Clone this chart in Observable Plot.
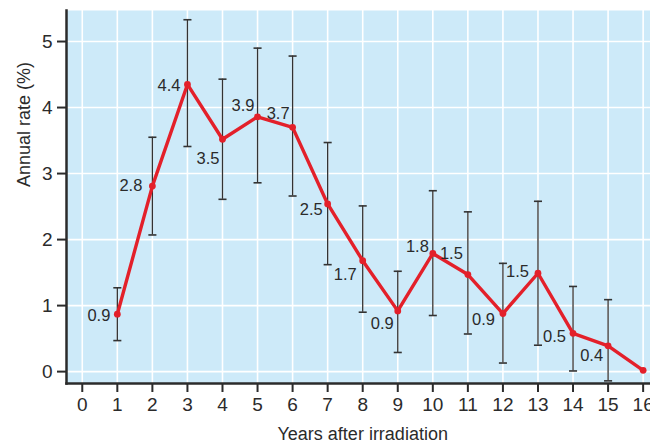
<!DOCTYPE html>
<html>
<head>
<meta charset="utf-8">
<script src="https://cdn.jsdelivr.net/npm/d3@7"></script>
<script src="https://cdn.jsdelivr.net/npm/@observablehq/plot@0.6"></script>
<style>
  html, body { margin: 0; padding: 0; background: #fff; overflow: hidden; }
  #chart { width: 650px; height: 443px; overflow: hidden; }
</style>
</head>
<body>
<div id="chart"></div>
<script>
// Data
const years  = [1, 2, 3, 4, 5, 6, 7, 8, 9, 10, 11, 12, 13, 14, 15, 16];
const rates  = [0.87, 2.81, 4.35, 3.52, 3.86, 3.70, 2.54, 1.68, 0.92, 1.79, 1.47, 0.88, 1.49, 0.58, 0.39, 0.02];
const lower  = [0.47, 2.07, 3.41, 2.61, 2.86, 2.66, 1.62, 0.90, 0.29, 0.85, 0.57, 0.13, 0.40, 0.01, -0.14, null];
const upper  = [1.27, 3.55, 5.33, 4.43, 4.90, 4.78, 3.47, 2.51, 1.52, 2.74, 2.42, 1.64, 2.58, 1.29, 1.09, null];
const labels = ["0.9", "2.8", "4.4", "3.5", "3.9", "3.7", "2.5", "1.7", "0.9", "1.8", "1.5", "0.9", "1.5", "0.5", "0.4", null];
const xTicks = [0, 1, 2, 3, 4, 5, 6, 7, 8, 9, 10, 11, 12, 13, 14, 15, 16];
const yTicks = [0, 1, 2, 3, 4, 5];

// Label layout (pixel offsets of each value label from its point)
const labelDx = [-7, -10, -7, -3, -3, -3, -5, -6, -4, -4, -5, -8, -9, -7, -5, 0];
const labelDy = [2, 0, 1, 19, -11, -14, 6, 14, 13, -7, -21, 6, -2, 3, 10, 0];

const data = years.map((x, i) => ({x, y: rates[i], lo: lower[i], hi: upper[i], label: labels[i], i}));
const bars = data.filter(d => d.lo != null);

const FONT = "'Liberation Sans', Arial, Helvetica, sans-serif";
const ink = "#2b2b2b";
const capHalf = 0.115;

const labelMarks = data.filter(d => d.label != null).map(d =>
  Plot.text([d], {
    x: "x", y: "y", text: "label",
    textAnchor: "end", lineAnchor: "middle",
    dx: labelDx[d.i], dy: labelDy[d.i],
    fill: "#2b2b2b", fontSize: 16.5
  })
);

const chart = Plot.plot({
  width: 650,
  height: 443,
  marginLeft: 66,
  marginRight: 0,
  marginTop: 10,
  marginBottom: 60,
  style: {fontFamily: FONT, background: "#fff", overflow: "hidden"},
  x: {domain: [-0.45, 16.21], label: null},
  y: {domain: [-0.18, 5.47], label: null},
  marks: [
    Plot.frame({fill: "#cdeaf9", stroke: null}),
    Plot.gridX(xTicks, {stroke: "#fff", strokeOpacity: 1, strokeWidth: 1.6}),
    Plot.gridY(yTicks, {stroke: "#fff", strokeOpacity: 1, strokeWidth: 1.6}),
    Plot.axisX(xTicks, {
      tickSize: 9, tickPadding: 5, stroke: ink, strokeWidth: 2,
      fill: "#2b2b2b", fontSize: 19, tickFormat: d => String(d),
      label: null
    }),
    Plot.axisY(yTicks, {
      tickSize: 9, tickPadding: 5, stroke: ink, strokeWidth: 2,
      fill: "#2b2b2b", fontSize: 19, tickFormat: d => String(d),
      label: null
    }),
    Plot.frame({anchor: "left", stroke: ink, strokeWidth: 2.5}),
    Plot.frame({anchor: "bottom", stroke: ink, strokeWidth: 2.5}),
    // error bars
    Plot.ruleX(bars, {x: "x", y1: "lo", y2: "hi", stroke: "#333", strokeWidth: 1.3}),
    Plot.link(bars, {x1: d => d.x - capHalf, x2: d => d.x + capHalf, y1: "hi", y2: "hi", stroke: "#333", strokeWidth: 1.6}),
    Plot.link(bars, {x1: d => d.x - capHalf, x2: d => d.x + capHalf, y1: "lo", y2: "lo", stroke: "#333", strokeWidth: 1.6}),
    // line and points
    Plot.line(data, {x: "x", y: "y", stroke: "#e3202a", strokeWidth: 3.4, strokeLinejoin: "round"}),
    Plot.dot(data, {x: "x", y: "y", r: 3.4, fill: "#e3202a", stroke: null}),
    ...labelMarks,
    // axis titles
    Plot.text(["Years after irradiation"], {
      frameAnchor: "bottom", x: 8, dy: 51, text: d => d,
      fontSize: 18, fill: "#2b2b2b", lineAnchor: "middle"
    }),
    Plot.text(["Annual rate (%)"], {
      frameAnchor: "left", dx: -42, dy: -10, text: d => d, rotate: -90,
      fontSize: 18, fill: "#2b2b2b"
    })
  ]
});

document.getElementById("chart").appendChild(chart);
</script>
</body>
</html>
